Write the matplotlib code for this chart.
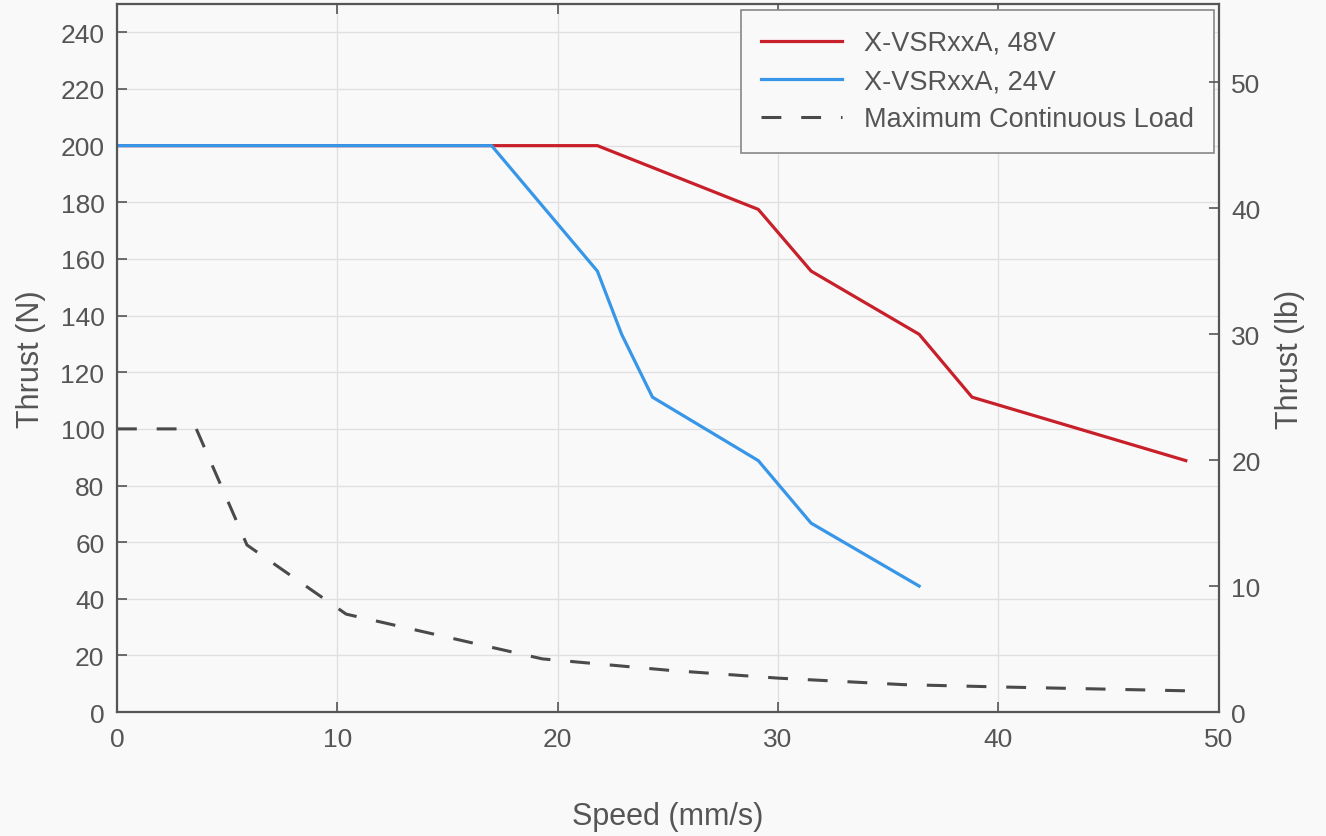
import matplotlib.pyplot as plt

plt.rcParams['font.family'] = ['Liberation Sans', 'DejaVu Sans']

# speed (mm/s) vs thrust (N)
speed_48v = [0, 21.8, 29.1, 31.5, 36.4, 38.8, 48.5]
thrust_48v = [200, 200, 177.5, 155.7, 133.4, 111.2, 88.8]

speed_24v = [0, 17.0, 21.8, 22.9, 24.3, 29.1, 31.5, 36.4]
thrust_24v = [200, 200, 155.7, 133.4, 111.2, 88.8, 66.7, 44.5]

speed_mcl = [0, 3.6, 5.9, 10.4, 19.3, 25, 30, 35.7, 40, 45, 49.3]
thrust_mcl = [100, 100, 59, 34.6, 18.8, 14.8, 12.0, 9.7, 8.9, 8.1, 7.4]

N_PER_LB = 4.448
grey = '#555555'
bg = '#f9f9f9'

fig = plt.figure(figsize=(13.26, 8.37), dpi=100, facecolor=bg)
ax = fig.add_axes([0.0882, 0.148, 0.831, 0.846], facecolor=bg)

ax.plot(speed_48v, thrust_48v, color='#c8202a', lw=2.3, label='X-VSRxxA, 48V')
ax.plot(speed_24v, thrust_24v, color='#3796e8', lw=2.3, label='X-VSRxxA, 24V')
ax.plot(speed_mcl, thrust_mcl, color='#4a4a4a', lw=2.2, dashes=(6.5, 6.5),
        label='Maximum Continuous Load')

ax.set_xlim(0, 50)
ax.set_ylim(0, 250)
ax.set_xticks(range(0, 51, 10))
ax.set_yticks(range(0, 241, 20))
ax.grid(True, color='#e0e0e0', lw=1)
ax.set_axisbelow(True)

ax.tick_params(direction='in', length=7, width=1.2, colors=grey, labelsize=19,
               top=True, pad=9)
ax.tick_params(axis='x', labeltop=False, pad=11)
for s in ax.spines.values():
    s.set_color(grey)
    s.set_linewidth(1.6)

ax.set_xlabel('Speed (mm/s)', fontsize=22, color=grey, labelpad=36)
ax.set_ylabel('Thrust (N)', fontsize=22, color=grey, labelpad=10)

ax2 = ax.twinx()
ax2.set_ylim(0, 250 / N_PER_LB)
ax2.set_yticks(range(0, 51, 10))
ax2.tick_params(direction='in', length=7, width=1.2, colors=grey, labelsize=19, pad=9)
for s in ax2.spines.values():
    s.set_visible(False)
ax2.set_ylabel('Thrust (lb)', fontsize=22, color=grey, labelpad=10)

leg = ax.legend(loc='upper right', fontsize=19.5, frameon=True, fancybox=False,
                edgecolor='#888888', facecolor=bg, framealpha=1,
                handlelength=3.0, handletextpad=0.8, borderpad=0.75,
                labelspacing=0.45, borderaxespad=0,
                bbox_to_anchor=(0.996, 0.992))
for t in leg.get_texts():
    t.set_color(grey)
leg.get_frame().set_linewidth(1.2)

fig.savefig('out.png', dpi=100, facecolor=bg)
